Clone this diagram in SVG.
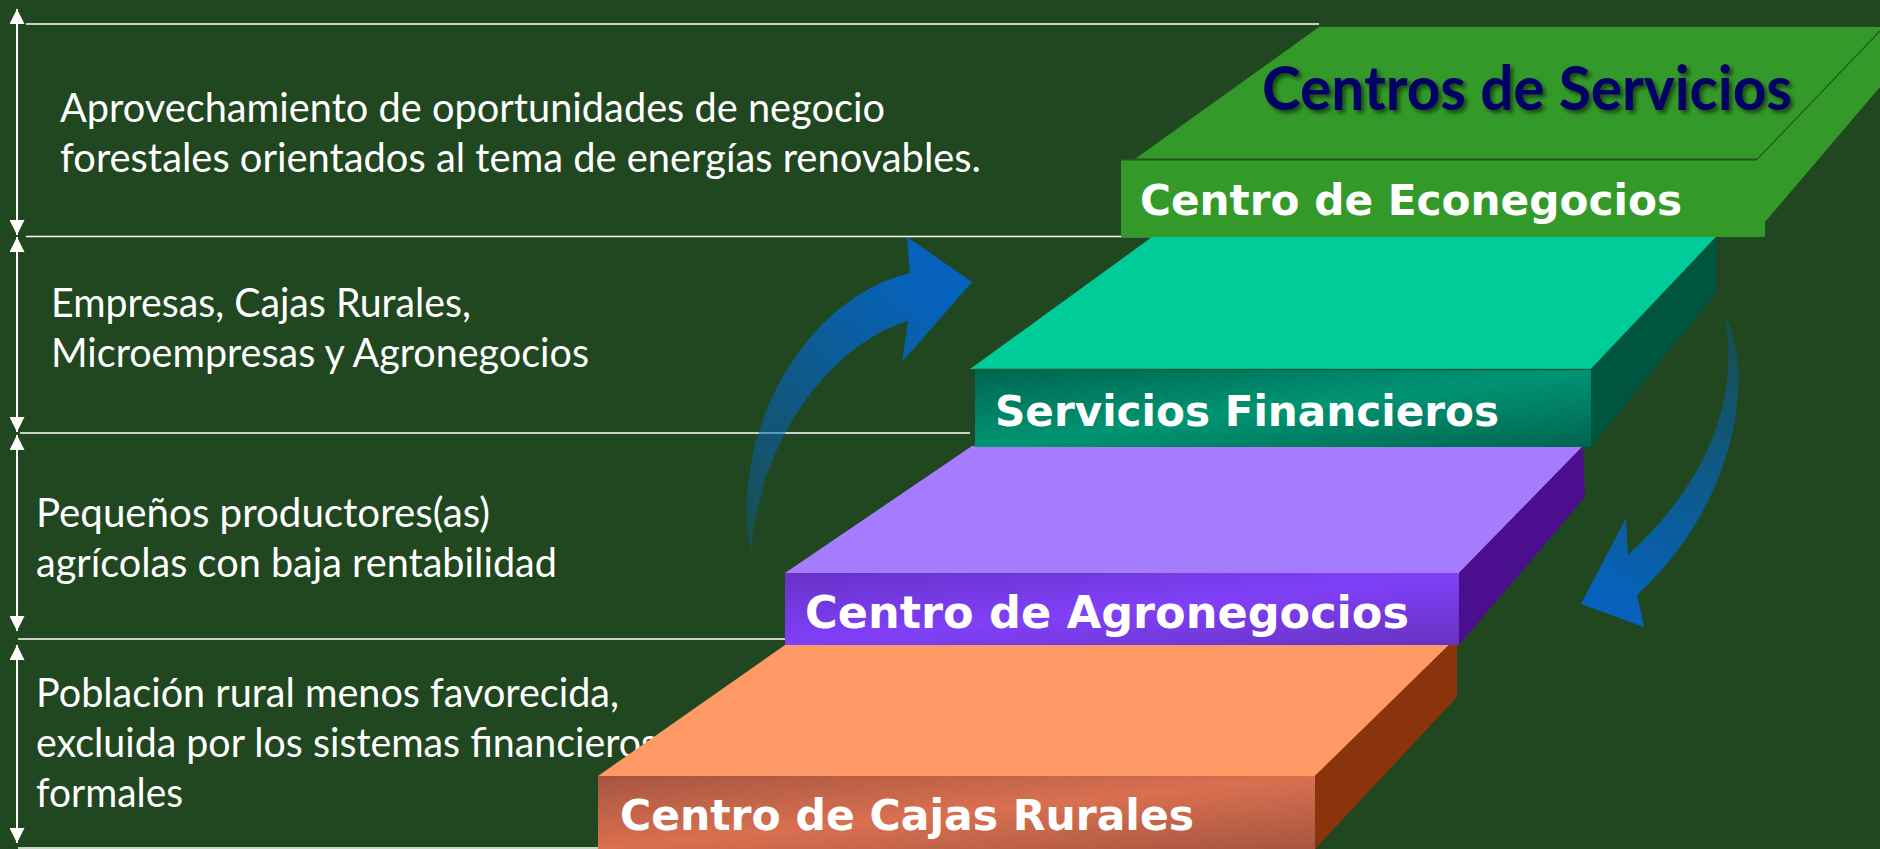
<svg xmlns="http://www.w3.org/2000/svg" width="1880" height="849" viewBox="0 0 1880 849">
<defs>
<style>
.guide{stroke:#ffffff;stroke-width:1.6;fill:none}
.vdim{stroke:#ffffff;stroke-width:2;fill:none;marker-start:url(#ah);marker-end:url(#ah)}
.desc{font-family:Lato,"Open Sans",sans-serif;font-size:40px;fill:#ffffff}
.lbl{font-family:"DejaVu Sans",sans-serif;font-weight:bold;fill:#ffffff}
.title{font-family:Lato,"Open Sans",sans-serif;font-weight:bold;font-size:61px;fill:#000066}
</style>
<marker id="ah" viewBox="0 0 15 15" refX="15" refY="7.5" markerWidth="15" markerHeight="15" markerUnits="userSpaceOnUse" orient="auto-start-reverse">
<path d="M0,0 L15,7.5 L0,15 z" fill="#ffffff"/>
</marker>
<linearGradient id="gTeal" x1="0" y1="0" x2="1" y2="1">
<stop offset="0" stop-color="#006550"/><stop offset="0.5" stop-color="#009473"/><stop offset="1" stop-color="#006550"/>
</linearGradient>
<linearGradient id="gPurple" x1="0" y1="0" x2="1" y2="1">
<stop offset="0" stop-color="#6632c8"/><stop offset="0.5" stop-color="#8040f8"/><stop offset="1" stop-color="#6632c0"/>
</linearGradient>
<linearGradient id="gOrange" x1="0" y1="0" x2="1" y2="1">
<stop offset="0" stop-color="#a65540"/><stop offset="0.5" stop-color="#d97050"/><stop offset="1" stop-color="#a65540"/>
</linearGradient>
<linearGradient id="gArrowL" gradientUnits="userSpaceOnUse" x1="751" y1="553" x2="972" y2="282">
<stop offset="0" stop-color="#0563c1" stop-opacity="0.3"/><stop offset="0.9" stop-color="#0563c1" stop-opacity="0.97"/>
</linearGradient>
<linearGradient id="gArrowR" gradientUnits="userSpaceOnUse" x1="1724" y1="313" x2="1600" y2="615">
<stop offset="0" stop-color="#0563c1" stop-opacity="0.3"/><stop offset="0.95" stop-color="#0563c1" stop-opacity="0.97"/>
</linearGradient>
<filter id="shadow" x="-10%" y="-20%" width="120%" height="150%">
<feDropShadow dx="3" dy="3" stdDeviation="2" flood-color="#000000" flood-opacity="0.55"/>
</filter>
</defs>

<rect x="0" y="0" width="1880" height="849" fill="#20471f"/>

<g id="guides">
<line class="guide" x1="26" y1="24" x2="1319" y2="24"/>
<line class="guide" x1="26" y1="236.5" x2="1152" y2="236.5"/>
<line class="guide" x1="20" y1="433" x2="970" y2="433"/>
<line class="guide" x1="18" y1="639" x2="785" y2="639"/>
<line class="guide" x1="18" y1="848" x2="598" y2="848"/>
<line class="vdim" x1="17" y1="9" x2="17" y2="235"/>
<line class="vdim" x1="17" y1="237" x2="17" y2="432"/>
<line class="vdim" x1="17" y1="435" x2="17" y2="631"/>
<line class="vdim" x1="17" y1="645" x2="17" y2="843"/>
</g>

<g id="descriptions">
<text class="desc" x="60" y="122" textLength="825" lengthAdjust="spacingAndGlyphs">Aprovechamiento de oportunidades de negocio</text>
<text class="desc" x="60" y="172" textLength="921" lengthAdjust="spacingAndGlyphs">forestales orientados al tema de energías renovables.</text>
<text class="desc" x="51" y="317" textLength="420" lengthAdjust="spacingAndGlyphs">Empresas, Cajas Rurales,</text>
<text class="desc" x="51" y="367" textLength="538" lengthAdjust="spacingAndGlyphs">Microempresas y Agronegocios</text>
<text class="desc" x="36" y="527" textLength="454" lengthAdjust="spacingAndGlyphs">Pequeños productores(as)</text>
<text class="desc" x="36" y="577" textLength="521" lengthAdjust="spacingAndGlyphs">agrícolas con baja rentabilidad</text>
<text class="desc" x="36" y="707" textLength="583" lengthAdjust="spacingAndGlyphs">Población rural menos favorecida,</text>
<text class="desc" x="36" y="757" textLength="622" lengthAdjust="spacingAndGlyphs">excluida por los sistemas financieros</text>
<text class="desc" x="36" y="807" textLength="147" lengthAdjust="spacingAndGlyphs">formales</text>
</g>

<g id="node-cajas">
<polygon points="785,645 1449,645 1315,776 598,776" fill="#ff9966"/>
<polygon points="1449,645 1457,645 1457,697 1315,849 1315,776" fill="#8b330b"/>
<rect x="598" y="776" width="717" height="73" fill="url(#gOrange)"/>
<text class="lbl" x="620" y="830" font-size="42" textLength="574" lengthAdjust="spacingAndGlyphs">Centro de Cajas Rurales</text>
</g>

<g id="node-agronegocios">
<polygon points="972,446 1583,446 1459,573 785,573" fill="#a67cfe"/>
<polygon points="1583,446 1585,497 1459,645 1459,573" fill="#4b0e8f"/>
<rect x="785" y="573" width="674" height="72" fill="url(#gPurple)"/>
<text class="lbl" x="805" y="628" font-size="44" textLength="604" lengthAdjust="spacingAndGlyphs">Centro de Agronegocios</text>
</g>

<g id="node-financieros">
<polygon points="1152,237 1716,237 1591,369 970,369" fill="#00cc99"/>
<polygon points="1716,237 1716,293 1591,447 1591,369" fill="#00553f"/>
<rect x="975" y="369" width="616" height="78" fill="url(#gTeal)"/>
<line x1="975" y1="369.5" x2="1591" y2="369.5" stroke="#1e5a3c" stroke-width="1.5"/>
<text class="lbl" x="995" y="426" font-size="42" textLength="504" lengthAdjust="spacingAndGlyphs">Servicios Financieros</text>
</g>

<g id="node-econegocios">
<polygon points="1319,27 1880,27 1880,87 1765,222 1765,237 1121,237 1121,160 1135,159" fill="#339a29"/>
<polyline points="1121,159.5 1757,159.5 1880,31" fill="none" stroke="#24561e" stroke-width="1.2"/>
<line x1="1121" y1="159.5" x2="1757" y2="159.5" stroke="#24561e" stroke-width="2"/>
<text class="lbl" x="1140" y="215" font-size="42" textLength="542" lengthAdjust="spacingAndGlyphs">Centro de Econegocios</text>
</g>

<g id="title">
<text class="title" x="1262" y="110" textLength="530" lengthAdjust="spacingAndGlyphs" filter="url(#shadow)">Centros de Servicios</text>
</g>

<g id="connectors">
<path id="arrow-up" d="M751,553 C728,440 800,300 910,273 L907,237 L972,282 L902,362 L908,321 C840,340 760,430 751,553 Z" fill="url(#gArrowL)"/>
<path id="arrow-down" d="M1724,313 C1755,370 1740,500 1637,595 L1644,627 L1581,604 L1626,518 L1628,555 C1705,485 1742,400 1724,313 Z" fill="url(#gArrowR)"/>
</g>
</svg>
